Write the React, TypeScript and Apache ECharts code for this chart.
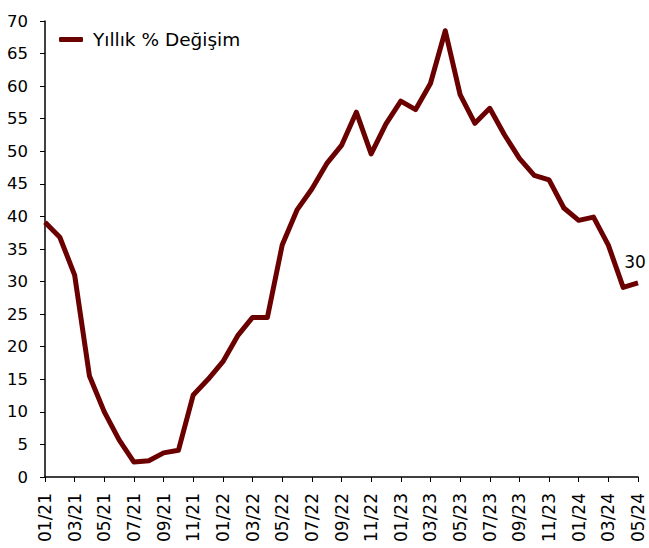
import React, { useEffect, useRef } from "react";
import * as echarts from "echarts";

const categories: string[] = [
  "01/21", "02/21", "03/21", "04/21", "05/21", "06/21", "07/21", "08/21", "09/21", "10/21", "11/21", "12/21",
  "01/22", "02/22", "03/22", "04/22", "05/22", "06/22", "07/22", "08/22", "09/22", "10/22", "11/22", "12/22",
  "01/23", "02/23", "03/23", "04/23", "05/23", "06/23", "07/23", "08/23", "09/23", "10/23", "11/23", "12/23",
  "01/24", "02/24", "03/24", "04/24", "05/24",
];

const yearlyChange: number[] = [
  39.1, 36.8, 31.0, 15.5, 10.0, 5.7, 2.3, 2.5, 3.7, 4.1, 12.6, 15.0,
  17.7, 21.7, 24.5, 24.5, 35.6, 41.0, 44.2, 48.1, 50.9, 56.0, 49.6, 54.2,
  57.7, 56.4, 60.4, 68.5, 58.7, 54.3, 56.6, 52.5, 48.9, 46.3, 45.6, 41.3,
  39.4, 39.9, 35.6, 29.1, 29.8,
];

const seriesName = "Yıllık % Değişim";
const lineColor = "#6b0000";
const font = "DejaVu Sans";

export default function App() {
  const ref = useRef<HTMLDivElement>(null);
  useEffect(() => {
    if (!ref.current) return;
    const chart = echarts.init(ref.current, undefined, { renderer: "svg", width: 649, height: 548 });
    const lastIdx = yearlyChange.length - 1;
    chart.setOption({
      animation: false,
      textStyle: { fontFamily: font },
      grid: { left: 45, right: 11, top: 21, bottom: 71, containLabel: false },
      legend: {
        show: true,
        left: 54,
        top: 25,
        icon: "roundRect",
        itemWidth: 24,
        itemHeight: 5,
        itemGap: 10,
        textStyle: { fontFamily: font, fontSize: 18.5, color: "#000", padding: [0, 0, 0, 5] },
        data: [{ name: seriesName, itemStyle: { color: lineColor } }],
      },
      xAxis: {
        type: "category",
        data: categories,
        boundaryGap: false,
        axisLine: { show: true, lineStyle: { color: "#000", width: 1.5 } },
        axisTick: { show: true, interval: 1, length: 5, lineStyle: { color: "#000" } },
        axisLabel: {
          interval: 1,
          rotate: 90,
          margin: 16,
          fontFamily: font,
          fontSize: 17,
          color: "#000",
        },
        splitLine: { show: false },
      },
      yAxis: {
        type: "value",
        min: 0,
        max: 70,
        interval: 5,
        axisLine: { show: true, lineStyle: { color: "#000", width: 1.5 } },
        axisTick: { show: true, length: 5, lineStyle: { color: "#000" } },
        axisLabel: { margin: 17, fontFamily: font, fontSize: 16.5, color: "#000" },
        splitLine: { show: false },
      },
      series: [
        {
          name: seriesName,
          type: "line",
          data: yearlyChange.map((v, i) =>
            i === lastIdx
              ? {
                  value: v,
                  label: {
                    show: true,
                    position: "top",
                    distance: 12,
                    offset: [-3, 0],
                    formatter: (p: any) => String(Math.round(p.value)),
                    fontFamily: font,
                    fontSize: 17,
                    color: "#000",
                  },
                }
              : v
          ),
          showSymbol: true,
          symbol: "circle",
          symbolSize: 0,
          lineStyle: { color: lineColor, width: 5, join: "round" },
          itemStyle: { color: lineColor },
        },
      ],
    });
    return () => chart.dispose();
  }, []);
  return (
    <div
      ref={ref}
      style={{ position: "absolute", left: 0, top: 0, width: 649, height: 548, overflow: "visible" }}
    />
  );
}
